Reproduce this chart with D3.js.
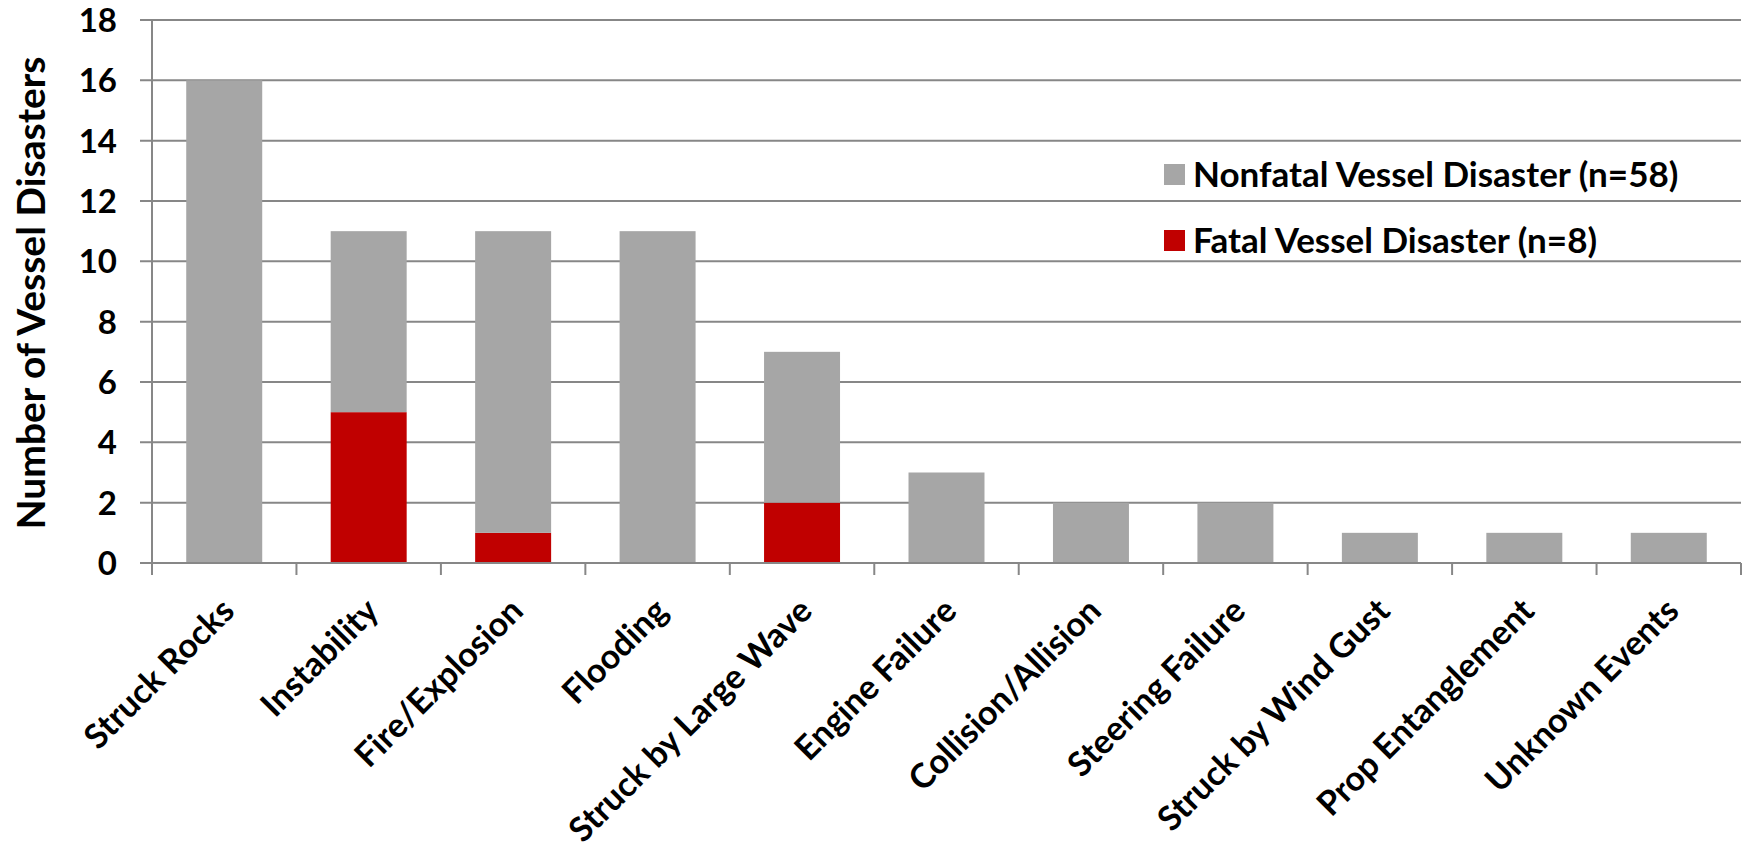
<!DOCTYPE html>
<html>
<head>
<meta charset="utf-8">
<script src="https://cdn.jsdelivr.net/npm/d3@7"></script>
<style>
  html, body { margin: 0; padding: 0; background: #fff; }
  svg text { font-family: Lato, "Open Sans", sans-serif; font-weight: bold; fill: #000; }
</style>
</head>
<body>
<svg id="chart" width="1752" height="848"></svg>
<script>
// Vessel disaster counts by initiating event
const categories = ["Struck Rocks", "Instability", "Fire/Explosion", "Flooding", "Struck by Large Wave",
  "Engine Failure", "Collision/Allision", "Steering Failure", "Struck by Wind Gust",
  "Prop Entanglement", "Unknown Events"];
const fatal =    [0, 5, 1, 0, 2, 0, 0, 0, 0, 0, 0];
const nonfatal = [16, 6, 10, 11, 5, 3, 2, 2, 1, 1, 1];
const yTicks = [0, 2, 4, 6, 8, 10, 12, 14, 16, 18];
const seriesNames = ["Nonfatal Vessel Disaster (n=58)", "Fatal Vessel Disaster (n=8)"];
const colors = { fatal: "#C00000", nonfatal: "#A6A6A6" };

const svg = d3.select("#chart");
const plotLeft = 152, plotRight = 1741, plotTop = 20, plotBottom = 563;

const x = d3.scaleBand().domain(categories).range([plotLeft, plotRight]).paddingInner(0.474).paddingOuter(0.237);
const xb = d3.scaleBand().domain(categories).range([plotLeft, plotRight]).padding(0);
const y = d3.scaleLinear().domain([0, 18]).range([plotBottom, plotTop]);

// Horizontal gridlines with outer tick stubs
svg.append("g").selectAll("line").data(yTicks.filter(d => d > 0)).join("line")
  .attr("x1", plotLeft - 12).attr("x2", plotRight)
  .attr("y1", d => y(d)).attr("y2", d => y(d))
  .attr("stroke", "#878787").attr("stroke-width", 2);

// Stacked bars: fatal at the base, nonfatal above
const rows = categories.map((c, i) => ({ cat: c, fatal: fatal[i], nonfatal: nonfatal[i] }));
const stack = d3.stack().keys(["fatal", "nonfatal"])(rows);
svg.append("g").selectAll("g").data(stack).join("g")
  .attr("fill", s => colors[s.key])
  .selectAll("rect").data(s => s).join("rect")
  .attr("x", d => x(d.data.cat))
  .attr("width", x.bandwidth())
  .attr("y", d => y(d[1]))
  .attr("height", d => y(d[0]) - y(d[1]));

// Y axis line and zero line
svg.append("line").attr("x1", plotLeft).attr("x2", plotLeft).attr("y1", plotTop).attr("y2", plotBottom + 12)
  .attr("stroke", "#878787").attr("stroke-width", 2);
svg.append("line").attr("x1", plotLeft - 12).attr("x2", plotRight).attr("y1", plotBottom).attr("y2", plotBottom)
  .attr("stroke", "#878787").attr("stroke-width", 2);

// X axis category boundary ticks
svg.append("g").selectAll("line").data(categories.slice(1).map(c => xb(c)).concat([plotRight])).join("line")
  .attr("x1", d => d).attr("x2", d => d).attr("y1", plotBottom).attr("y2", plotBottom + 12)
  .attr("stroke", "#878787").attr("stroke-width", 2);

// Y tick labels
svg.append("g").selectAll("text").data(yTicks).join("text")
  .attr("x", plotLeft - 35).attr("y", d => y(d)).attr("dy", "0.36em")
  .attr("text-anchor", "end").style("font-size", "33px")
  .text(d => d);

// Y axis title
svg.append("text")
  .attr("transform", `translate(45, 293) rotate(-90)`)
  .attr("text-anchor", "middle").style("font-size", "39px")
  .text("Number of Vessel Disasters");

// Rotated category labels
svg.append("g").selectAll("text").data(categories).join("text")
  .attr("transform", d => `translate(${x(d) + x.bandwidth() / 2 + 12}, ${plotBottom + 50}) rotate(-45)`)
  .attr("text-anchor", "end").style("font-size", "34px")
  .text(d => d);

// Legend
const legend = svg.append("g");
const legendItems = [
  { name: seriesNames[0], color: colors.nonfatal, y: 174 },
  { name: seriesNames[1], color: colors.fatal, y: 240 }
];
legend.selectAll("rect").data(legendItems).join("rect")
  .attr("x", 1164).attr("y", d => d.y - 10).attr("width", 21).attr("height", 21)
  .attr("fill", d => d.color);
legend.selectAll("text").data(legendItems).join("text")
  .attr("x", 1193).attr("y", d => d.y).attr("dy", "0.36em")
  .style("font-size", "35px")
  .text(d => d.name);
</script>
</body>
</html>
